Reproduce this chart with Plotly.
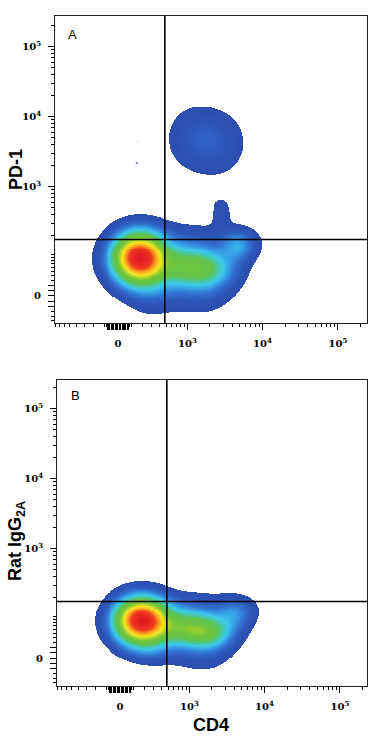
import numpy as np
import plotly.graph_objects as go

# ---------------- data ----------------
# biexponential (arcsinh) cofactors of the two channels
CD4_COFACTOR = 244.0
Y_COFACTOR = 55.0

# quadrant gate (raw fluorescence)
GATE_CD4 = 480.0
GATE_Y = 172.0

# axis decade labels
major_vals = [0, 1e3, 1e4, 1e5]
major_text = ["0", "10<sup>3</sup>", "10<sup>4</sup>", "10<sup>5</sup>"]

# cell populations: centre (raw units), spread (decades), relative weight
A_pop_cd4 = [168, 847, 1928, 4850, 1208, 300, 1500, 2850, 1150, 2800, 454]
A_pop_y = [87, 62, 54, 139, 165, 0, 0, 435, 4890, 4165, 68]
A_pop_sx = [0.23, 0.25, 0.25, 0.15, 0.55, 0.22, 0.30, 0.09, 0.25, 0.25, 0.55]
A_pop_sy = [0.24, 0.19, 0.18, 0.15, 0.18, 0.20, 0.20, 0.15, 0.33, 0.33, 0.30]
A_pop_w = [1.00, 0.27, 0.28, 0.17, 0.06, 0.07, 0.07, 0.07, 0.075, 0.075, 0.06]

B_pop_cd4 = [168, 800, 1800, 4200, 1208, 300, 1500, 454]
B_pop_y = [85, 64, 52, 110, 150, 15, 0, 68]
B_pop_sx = [0.23, 0.25, 0.23, 0.16, 0.50, 0.22, 0.28, 0.5]
B_pop_sy = [0.22, 0.17, 0.16, 0.15, 0.15, 0.16, 0.16, 0.26]
B_pop_w = [1.00, 0.31, 0.36, 0.14, 0.06, 0.06, 0.06, 0.05]

# isolated events in panel A (raw units)
A_stray_cd4 = [148, 158]
A_stray_y = [2180, 4470]
A_stray_color = ["#3a5fb8", "#9a9a9a"]
A_stray_size = [3, 2]

DETECT_LEVEL = 0.036

# ---------------- helpers ----------------
LN10 = np.log(10)


def tx(v):
    return np.arcsinh(np.asarray(v, float) / CD4_COFACTOR) / LN10


def ty(v):
    return np.arcsinh(np.asarray(v, float) / Y_COFACTOR) / LN10


def density(cx, cy, sx, sy, w, gx, gy):
    X, Y = np.meshgrid(gx, gy)
    D = np.zeros_like(X)
    ux, uy = tx(cx), ty(cy)
    for a, b, s1, s2, ww in zip(ux, uy, sx, sy, w):
        D += ww * np.exp(-((X - a) ** 2) / (2 * s1 ** 2) - ((Y - b) ** 2) / (2 * s2 ** 2))
    D = D / D.max()
    D[D < DETECT_LEVEL] = np.nan
    return D


gx = np.arange(-0.6, 2.2, 0.013)
gy = np.arange(-0.45, 2.95, 0.014)

colorscale = [
    [0.00, "rgb(42,72,168)"],
    [0.08, "rgb(45,85,182)"],
    [0.13, "rgb(50,110,205)"],
    [0.19, "rgb(55,160,230)"],
    [0.24, "rgb(60,200,235)"],
    [0.30, "rgb(70,200,165)"],
    [0.36, "rgb(95,195,80)"],
    [0.47, "rgb(110,196,60)"],
    [0.55, "rgb(175,212,45)"],
    [0.63, "rgb(245,230,35)"],
    [0.74, "rgb(250,160,30)"],
    [0.84, "rgb(240,60,30)"],
    [1.00, "rgb(225,25,35)"],
]

W, H = 375, 736


def px(x):
    return x / W


def py(y):
    return 1 - y / H


fig = go.Figure()

DA = density(A_pop_cd4, A_pop_y, A_pop_sx, A_pop_sy, A_pop_w, gx, gy)
DB = density(B_pop_cd4, B_pop_y, B_pop_sx, B_pop_sy, B_pop_w, gx, gy)

fig.add_trace(go.Heatmap(x=gx, y=gy, z=DA, zmin=0, zmax=1, colorscale=colorscale,
                         showscale=False, hoverinfo="skip", xaxis="x", yaxis="y"))
fig.add_trace(go.Heatmap(x=gx, y=gy, z=DB, zmin=0, zmax=1, colorscale=colorscale,
                         showscale=False, hoverinfo="skip", xaxis="x2", yaxis="y2"))
fig.add_trace(go.Scatter(x=tx(A_stray_cd4), y=ty(A_stray_y), mode="markers",
                         marker=dict(symbol="square", size=A_stray_size, color=A_stray_color),
                         hoverinfo="skip", xaxis="x", yaxis="y"))


def ticks_for(tfun, cluster):
    minors = []
    for dec in [10, 100, 1000, 10000, 100000]:
        for k in range(2 if dec >= 1000 else 1, 10):
            v = k * dec
            if dec == 10 and v in cluster:
                continue
            minors += [v, -v]
    major = list(tfun(major_vals)) + list(tfun(cluster)) + list(tfun([-c for c in cluster]))
    text = major_text + [""] * (2 * len(cluster))
    return major, text, list(tfun(minors))


x_major, x_text, x_minor = ticks_for(tx, [10, 20, 30, 40, 50, 60, 70, 80])
y_major, y_text, y_minor = ticks_for(ty, [10, 20])

tickfont = dict(family="DejaVu Serif", size=10, color="black", weight="bold")
common = dict(showgrid=False, zeroline=False, showline=True, linecolor="#222", linewidth=1,
              mirror=True, ticks="outside", ticklen=6, tickwidth=1, tickcolor="black",
              tickfont=tickfont, tickmode="array", ticklabelstandoff=5,
              minor=dict(tickmode="array", ticks="outside", ticklen=3, tickwidth=1,
                         tickcolor="black", showgrid=False))

xa = dict(common, tickvals=x_major, ticktext=x_text)
xa["minor"] = dict(common["minor"], tickvals=x_minor)
ya = dict(common, tickvals=y_major, ticktext=y_text)
ya["minor"] = dict(common["minor"], tickvals=y_minor)

fig.update_layout(
    width=W, height=H, margin=dict(l=0, r=0, t=0, b=0),
    paper_bgcolor="white", plot_bgcolor="white", showlegend=False,
    xaxis=dict(xa, domain=[px(55), px(367)], range=[-0.834, 3.298], anchor="y"),
    yaxis=dict(ya, domain=[py(323), py(16)], range=[-0.386, 4.0], anchor="x"),
    xaxis2=dict(xa, domain=[px(57), px(367)], range=[-0.834, 3.272], anchor="y2"),
    yaxis2=dict(ya, domain=[py(686), py(380)], range=[-0.4, 3.971], anchor="x2"),
)

# quadrant gates
for xr, yr in [("x", "y"), ("x2", "y2")]:
    fig.add_shape(type="line", xref=xr, yref=yr + " domain", x0=float(tx(GATE_CD4)), x1=float(tx(GATE_CD4)),
                  y0=0, y1=1, line=dict(color="black", width=1.6))
    fig.add_shape(type="line", xref=xr + " domain", yref=yr, x0=0, x1=1, y0=float(ty(GATE_Y)), y1=float(ty(GATE_Y)),
                  line=dict(color="black", width=1.6))

title_font = dict(family="Liberation Sans", size=18, color="black", weight="bold")
ann = [
    dict(text="A", x=px(72), y=py(34), font=dict(family="Liberation Sans", size=13, color="black")),
    dict(text="B", x=px(75), y=py(395), font=dict(family="Liberation Sans", size=13, color="black")),
    dict(text="PD-1", x=px(16), y=py(170), textangle=-90, font=title_font),
    dict(text="Rat IgG<sub>2A</sub>", x=px(16), y=py(541), textangle=-90, font=title_font),
    dict(text="CD4", x=px(211), y=py(725), font=title_font),
]
for a in ann:
    fig.add_annotation(a, xref="paper", yref="paper", showarrow=False, xanchor="center", yanchor="middle")

fig.write_html("out.html")
